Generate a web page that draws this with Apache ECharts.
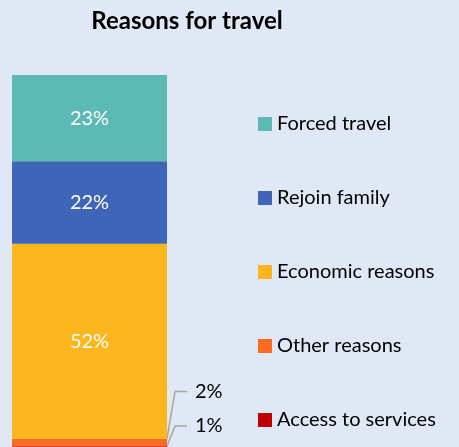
<!DOCTYPE html>
<html>
<head>
<meta charset="utf-8">
<script src="https://cdn.jsdelivr.net/npm/echarts@6/dist/echarts.min.js"></script>
<style>
html,body{margin:0;padding:0;background:#E1E8F5;}
#c{width:459px;height:447px;}
</style>
</head>
<body>
<div id="c"></div>
<script>
const categories = ['Reasons'];
const seriesNames = ['Access to services', 'Other reasons', 'Economic reasons', 'Rejoin family', 'Forced travel'];
const seriesValues = [[1], [2], [52], [22], [23]];
const legendOrder = ['Forced travel', 'Rejoin family', 'Economic reasons', 'Other reasons', 'Access to services'];
const colors = ['#C00000', '#FD6A22', '#FDB71E', '#3F65B9', '#5CB9B3'];
const outsideLabelOffsets = [-20.6, -51];

const chart = echarts.init(document.getElementById('c'), null, {renderer: 'canvas'});
const series = seriesNames.map((name, i) => {
  const small = i < 2;
  const s = {
    name: name,
    type: 'bar',
    stack: 'total',
    data: seriesValues[i],
    barWidth: 155,
    itemStyle: {color: colors[i]},
    label: {
      show: true,
      position: small ? 'right' : 'inside',
      formatter: '{c}%',
      color: small ? '#000' : '#fff',
      fontSize: 20,
      fontFamily: 'Lato'
    }
  };
  if (small) {
    s.label.distance = 20;
    s.label.padding = [0, 40, 0, 8];
    s.label.backgroundColor = 'rgba(0,0,0,0)';
    s.labelLayout = {dy: outsideLabelOffsets[i]};
    s.labelLine = {show: true, length2: 12, lineStyle: {color: '#A6A6A6', width: 1.5}};
  }
  return s;
});

chart.setOption({
  backgroundColor: '#E1E8F5',
  animation: false,
  title: {
    text: 'Reasons for travel',
    left: 187, top: 9,
    textAlign: 'center',
    padding: 0,
    textStyle: {fontFamily: 'Lato', fontWeight: 'bold', fontSize: 24, color: '#000'}
  },
  legend: {
    orient: 'vertical',
    left: 258, top: 114,
    padding: 0,
    data: legendOrder,
    itemWidth: 14, itemHeight: 14,
    itemGap: 54,
    icon: 'rect',
    textStyle: {fontFamily: 'Lato', fontSize: 20, color: '#000'},
    selectedMode: false
  },
  grid: {left: 12, width: 155, top: 75, bottom: 0},
  xAxis: {type: 'category', data: categories, show: false},
  yAxis: {type: 'value', min: 0.8, max: 100, show: false},
  series: series
});
</script>
</body>
</html>
